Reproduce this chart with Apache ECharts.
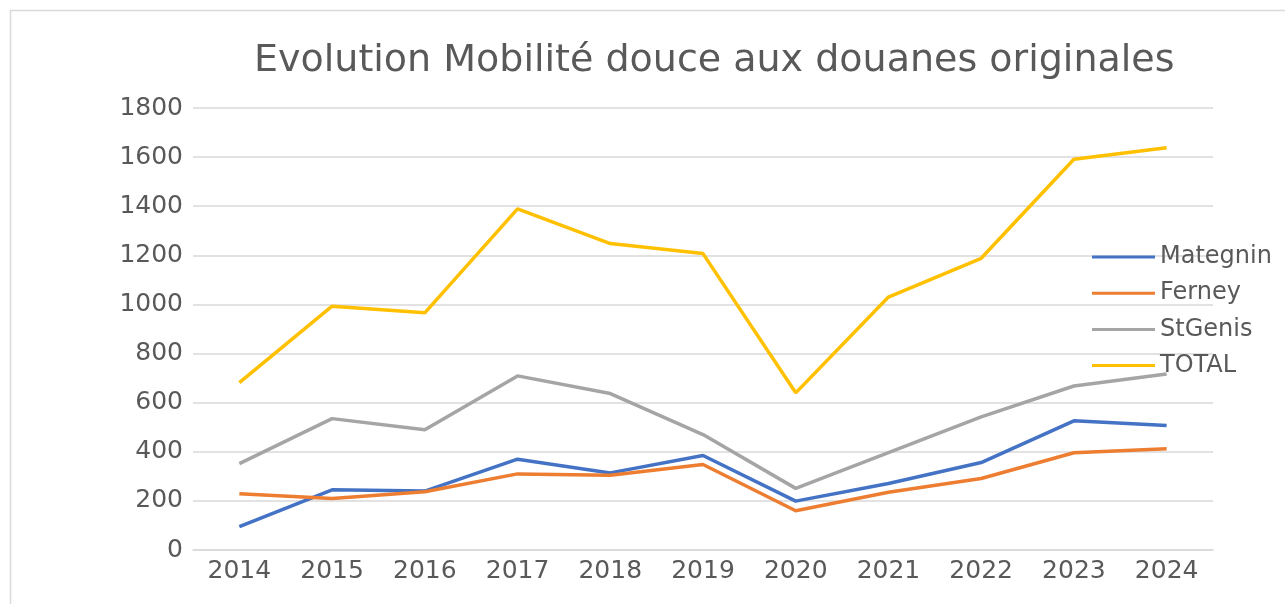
<!DOCTYPE html>
<html>
<head>
<meta charset="utf-8">
<script src="https://cdn.jsdelivr.net/npm/echarts@6/dist/echarts.min.js"></script>
<style>
html,body{margin:0;padding:0;background:#fff;}
#chart{width:1285px;height:604px;}
</style>
</head>
<body>
<div id="chart"></div>
<script>
const categories = ['2014','2015','2016','2017','2018','2019','2020','2021','2022','2023','2024'];
const mategnin = [95, 245, 240, 370, 314, 385, 199, 271, 356, 526, 507];
const ferney   = [229, 210, 237, 310, 304, 348, 160, 235, 291, 396, 412];
const stgenis  = [352, 535, 490, 709, 637, 470, 251, 397, 542, 668, 717];
const total    = [682, 993, 966, 1389, 1248, 1207, 640, 1030, 1188, 1591, 1638];
const seriesNames = ['Mategnin','Ferney','StGenis','TOTAL'];
const colors = ['#4472C4','#ED7D31','#A5A5A5','#FFC000'];
const titleText = 'Evolution Mobilité douce aux douanes originales';

const font = 'DejaVu Sans';
const txt = '#595959';
const chart = echarts.init(document.getElementById('chart'));
const seriesData = [mategnin, ferney, stgenis, total];
chart.setOption({
  animation: false,
  color: colors,
  graphic: [{
    type: 'rect', left: 8, top: 8, silent: true,
    shape: {x: 0, y: 0, width: 1400, height: 700},
    style: {fill: 'none', stroke: '#d9d9d9', lineWidth: 1.5}
  }],
  title: {
    text: titleText,
    left: 249, top: 37,
    textStyle: {fontFamily: font, fontSize: 38, fontWeight: 'normal', color: txt}
  },
  legend: {
    orient: 'vertical',
    left: 1087, top: 240,
    icon: 'rect',
    itemWidth: 63, itemHeight: 3,
    itemGap: 12.2,
    data: seriesNames,
    textStyle: {fontFamily: font, fontSize: 24, color: txt, lineHeight: 24}
  },
  grid: {left: 193, right: 72, top: 108, bottom: 54, containLabel: false},
  xAxis: {
    type: 'category',
    data: categories,
    boundaryGap: true,
    axisLine: {lineStyle: {color: '#d9d9d9', width: 1.5}},
    axisTick: {show: false},
    axisLabel: {fontFamily: font, fontSize: 25, color: txt, margin: 9}
  },
  yAxis: {
    type: 'value',
    min: 0, max: 1800, interval: 200,
    axisLine: {show: false},
    axisTick: {show: false},
    splitLine: {lineStyle: {color: '#d9d9d9', width: 1.5}},
    axisLabel: {fontFamily: font, fontSize: 25, color: txt, margin: 10, formatter: v => String(v)}
  },
  series: seriesNames.map((n, i) => ({
    name: n,
    type: 'line',
    data: seriesData[i],
    symbol: 'none',
    lineStyle: {width: 3.5, color: colors[i]},
    itemStyle: {color: colors[i]}
  }))
});
</script>
</body>
</html>
